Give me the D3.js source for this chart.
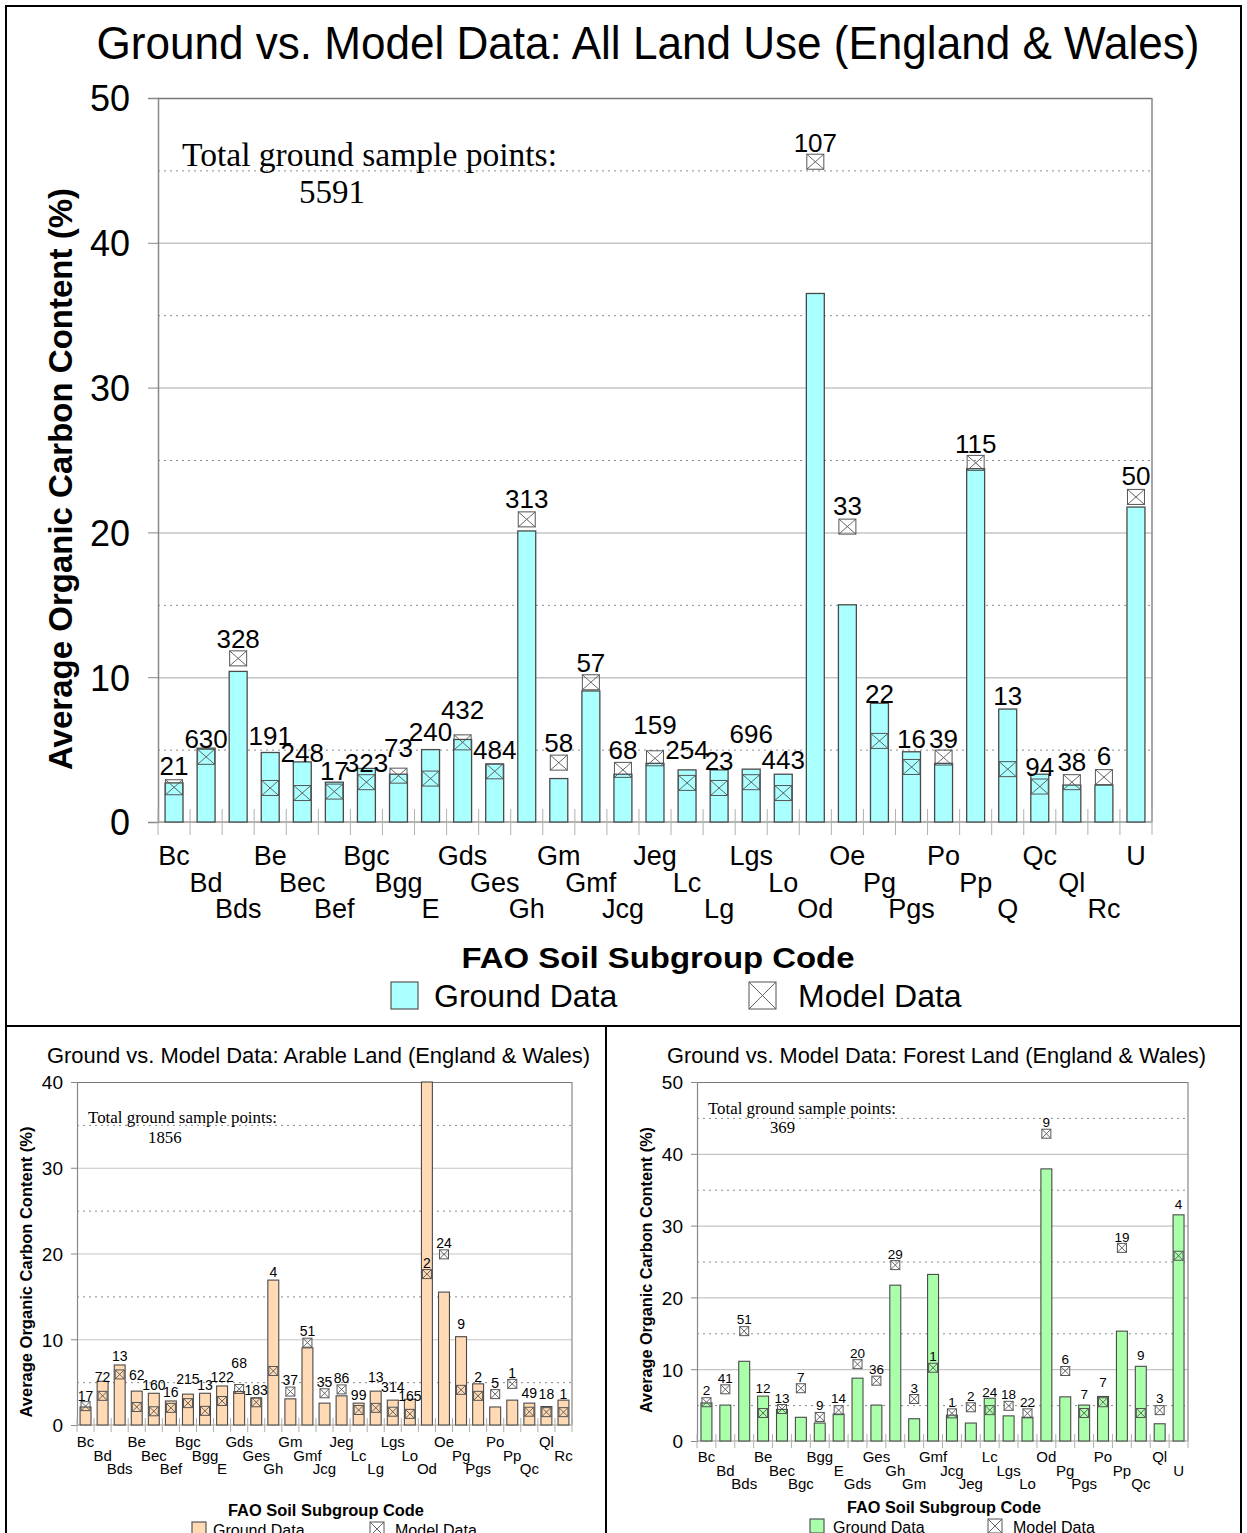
<!DOCTYPE html>
<html><head><meta charset="utf-8">
<script src="https://cdn.jsdelivr.net/npm/d3@7"></script>
<style>
body{margin:0;background:#fff}
svg{display:block}
text{font-family:"Liberation Sans",Arial,sans-serif;fill:#000}
</style>
</head><body>
<svg id="chart" width="1247" height="1533"></svg>
<script>
// ---------- DATA ----------
// All land use
const allCodes = ["Bc","Bd","Bds","Be","Bec","Bef","Bgc","Bgg","E","Gds","Ges","Gh","Gm","Gmf","Jcg","Jeg","Lc","Lg","Lgs","Lo","Od","Oe","Pg","Pgs","Po","Pp","Q","Qc","Ql","Rc","U"];
const allGround = [2.7,5.1,10.4,4.8,4.15,2.75,3.7,3.3,5.0,5.7,4.0,20.1,3.0,9.05,3.3,4.05,3.6,3.6,3.65,3.3,36.5,15.0,8.2,4.85,4.05,24.4,7.8,3.3,2.55,2.55,21.75];
const allModel  = [2.4,4.5,11.3,2.35,2.0,2.1,2.75,3.2,3.0,5.5,3.5,20.9,4.1,9.65,3.6,4.4,2.7,2.35,2.75,2.0,45.6,20.4,5.6,3.8,4.45,24.8,3.65,2.45,2.75,3.1,22.45];
const allCounts = [21,630,328,191,248,17,323,73,240,432,484,313,58,57,68,159,254,23,696,443,107,33,22,16,39,115,13,94,38,6,50];
const allCountLabelAt = [3.25,5.1,12.0,5.3,4.15,2.9,3.45,4.5,5.6,7.1,4.35,21.7,4.85,10.35,4.35,6.1,4.35,3.6,5.45,3.65,46.3,21.2,8.2,5.1,5.1,25.5,8.1,3.2,3.5,3.95,23.3];
const allTotal = 5591;
const allYTicks = [0,10,20,30,40,50];

// Arable land
const arableCodes = ["Bc","Bd","Bds","Be","Bec","Bef","Bgc","Bgg","E","Gds","Ges","Gh","Gm","Gmf","Jcg","Jeg","Lc","Lg","Lgs","Lo","Od","Oe","Pg","Pgs","Po","Pp","Qc","Ql","Rc"];
const arableGround = [2.1,5.1,7.0,3.95,3.7,2.8,3.6,3.7,4.55,3.9,3.15,16.9,3.05,9.0,2.55,3.4,2.55,3.95,2.9,3.0,40,15.5,10.3,4.8,2.1,2.9,2.55,2.15,2.9];
const arableModel  = [2.2,3.4,5.9,2.1,1.6,2.0,2.55,1.65,2.8,4.2,2.65,6.3,3.9,9.6,3.7,4.15,1.75,2.0,1.55,1.3,17.6,19.9,4.1,3.4,3.6,4.8,1.55,1.5,1.5];
const arableCounts = [17,72,13,62,160,16,215,13,122,68,183,4,37,51,35,86,99,13,314,165,2,24,9,2,5,1,49,18,1];
const arableCountLabelAt = [2.8,5.0,7.45,5.25,4.1,3.25,4.8,4.1,5.0,6.65,3.5,17.25,4.65,10.4,4.4,4.9,2.9,5.0,3.85,2.8,18.3,20.6,11.2,5.0,4.3,5.5,3.15,3.0,3.0];
const arableTotal = 1856;
const arableYTicks = [0,10,20,30,40];

// Forest land
const forestCodes = ["Bc","Bd","Bds","Be","Bec","Bgc","Bgg","E","Gds","Ges","Gh","Gm","Gmf","Jcg","Jeg","Lc","Lgs","Lo","Od","Pg","Pgs","Po","Pp","Qc","Ql","U"];
const forestGround = [5.3,5.0,11.1,6.25,4.4,3.3,2.5,3.75,8.75,5.0,21.7,3.1,23.2,3.6,2.5,5.95,3.5,3.3,37.9,6.15,5.0,6.2,15.3,10.4,2.4,31.5];
const forestModel  = [5.4,7.2,15.3,3.9,4.45,7.35,3.35,4.3,10.7,8.4,24.5,5.85,10.2,3.85,4.7,4.3,4.9,3.85,42.8,9.75,3.9,5.4,26.9,3.9,4.3,25.8];
const forestCounts = [2,41,51,12,13,7,9,14,20,36,29,3,1,1,2,24,18,22,9,6,7,7,19,9,3,4];
const forestCountLabelAt = [6.4,8.1,16.3,6.7,5.3,8.2,4.3,5.3,11.55,9.3,25.3,6.7,11.1,4.7,5.6,6.1,5.8,4.7,43.7,10.7,5.8,7.5,27.7,11.3,5.3,32.3];
const forestTotal = 369;
const forestYTicks = [0,10,20,30,40,50];

const titleAll = "Ground vs. Model Data: All Land Use (England & Wales)";
const titleArable = "Ground vs. Model Data: Arable Land (England & Wales)";
const titleForest = "Ground vs. Model Data: Forest Land (England & Wales)";
const yAxisTitle = "Average Organic Carbon Content (%)";
const xAxisTitle = "FAO Soil Subgroup Code";
const totalLabel = "Total ground sample points:";
const legendGround = "Ground Data";
const legendModel = "Model Data";

// ---------- DRAWING ----------
const svg = d3.select("#chart");

// frame
svg.append("rect").attr("x",6).attr("y",6).attr("width",1235).attr("height",1540)
  .attr("fill","none").attr("stroke","#000").attr("stroke-width",2);
svg.append("line").attr("x1",6).attr("x2",1241).attr("y1",1026).attr("y2",1026).attr("stroke","#000").attr("stroke-width",2);
svg.append("line").attr("x1",606).attr("x2",606).attr("y1",1026).attr("y2",1540).attr("stroke","#000").attr("stroke-width",2);

function modelMark(g, cx, cy, w, h) {
  g.append("rect").attr("x",cx-w/2).attr("y",cy-h/2).attr("width",w).attr("height",h)
    .attr("fill","none").attr("stroke","#555").attr("stroke-width",1);
  g.append("line").attr("x1",cx-w/2).attr("y1",cy-h/2).attr("x2",cx+w/2).attr("y2",cy+h/2).attr("stroke","#555").attr("stroke-width",0.9);
  g.append("line").attr("x1",cx+w/2).attr("y1",cy-h/2).attr("x2",cx-w/2).attr("y2",cy+h/2).attr("stroke","#555").attr("stroke-width",0.9);
}

function panel(c) {
  const g = svg.append("g");
  const x = d3.scaleBand().domain(c.codes).range([c.x0, c.x1]).paddingInner(c.pad).paddingOuter(c.pad/2);
  const y = d3.scaleLinear().domain([0, c.yMax]).range([c.y0, c.y1]);
  const W = c.x1 - c.x0;

  // minor dotted gridlines
  const minors = d3.range(5, c.yMax, 10);
  const gMin = g.append("g").attr("transform",`translate(${c.x0},0)`)
    .call(d3.axisLeft(y).tickValues(minors).tickSize(-W).tickFormat(""));
  gMin.select(".domain").remove();
  gMin.selectAll("line").attr("stroke","#8a8a8a").attr("stroke-width",1).attr("stroke-dasharray","2,4");

  // major gridlines
  const majors = c.yTicks.filter(v => v > 0);
  const gMaj = g.append("g").attr("transform",`translate(${c.x0},0)`)
    .call(d3.axisLeft(y).tickValues(majors).tickSize(-W).tickFormat(""));
  gMaj.select(".domain").remove();
  gMaj.selectAll("line").attr("stroke", d => d === c.yMax ? "#777" : "#c4c4c4").attr("stroke-width", c.gridW);

  // right border
  g.append("line").attr("x1",c.x1).attr("x2",c.x1).attr("y1",y(c.yMax)).attr("y2",c.y0)
    .attr("stroke","#888").attr("stroke-width",c.gridW);

  // y axis with labels
  const gy = g.append("g").attr("transform",`translate(${c.x0},0)`)
    .call(d3.axisLeft(y).tickValues(c.yTicks).tickSize(c.yTickLen).tickPadding(c.yTickPad));
  gy.select(".domain").attr("stroke","#888").attr("stroke-width",c.gridW);
  gy.selectAll("line").attr("stroke","#888");
  gy.selectAll("text").attr("font-size",c.yTickFont).attr("font-family","'Liberation Sans',Arial,sans-serif").attr("fill","#000").attr("dy","0.36em");

  // bottom axis line
  g.append("line").attr("x1",c.x0).attr("x2",c.x1).attr("y1",c.y0).attr("y2",c.y0).attr("stroke","#999").attr("stroke-width",c.gridW);

  // category boundary ticks
  const step = x.step();
  const bounds = c.codes.map(d => x(d) - step*c.pad/2).concat([c.x1]);
  g.selectAll(null).data(bounds).enter().append("line")
    .attr("x1", d => d).attr("x2", d => d)
    .attr("y1", c.y0 - c.xTickHalf).attr("y2", c.y0 + c.xTickHalf)
    .attr("stroke","#b0b0b0").attr("stroke-width",1);

  // x axis labels (staggered)
  const gx = g.append("g").call(d3.axisBottom(x).tickSize(0).tickPadding(0));
  gx.select(".domain").remove();
  gx.selectAll("text").attr("y",(d,i) => c.rows[i%3]).attr("dy",null)
    .attr("font-size",c.xTickFont).attr("font-family","'Liberation Sans',Arial,sans-serif").attr("fill","#000");

  // bars
  g.selectAll(null).data(c.codes).enter().append("rect")
    .attr("x", d => x(d)).attr("width", x.bandwidth())
    .attr("y", (d,i) => y(c.ground[i])).attr("height", (d,i) => c.y0 - y(c.ground[i]))
    .attr("fill", c.fill).attr("stroke","#4a4a4a").attr("stroke-width",c.barStroke);

  // model markers
  c.codes.forEach((d,i) => {
    modelMark(g, x(d) + x.bandwidth()/2, y(c.model[i]), c.boxW, c.boxH);
  });

  // count labels
  g.selectAll(null).data(c.codes).enter().append("text")
    .attr("x", d => x(d) + x.bandwidth()/2)
    .attr("y", (d,i) => y(c.labelAt[i]))
    .attr("text-anchor","middle").attr("font-size",c.countFont)
    .text((d,i) => c.counts[i]);

  // title
  g.append("text").attr("x",c.title.x).attr("y",c.title.y).attr("text-anchor","middle")
    .attr("font-size",c.title.size).attr("textLength",c.title.len).attr("lengthAdjust","spacingAndGlyphs")
    .text(c.title.text);

  // y axis title
  g.append("text").attr("transform",`translate(${c.yLab.x},${c.yLab.y}) rotate(-90)`)
    .attr("text-anchor","middle").attr("font-weight","bold").attr("font-size",c.yLab.size)
    .attr("textLength",c.yLab.len).attr("lengthAdjust","spacingAndGlyphs")
    .text(yAxisTitle);

  // x axis title
  g.append("text").attr("x",c.xLab.x).attr("y",c.xLab.y).attr("text-anchor","middle")
    .attr("font-weight","bold").attr("font-size",c.xLab.size)
    .attr("textLength",c.xLab.len).attr("lengthAdjust","spacingAndGlyphs")
    .text(xAxisTitle);

  // totals
  g.append("text").attr("x",c.tot.x).attr("y",c.tot.y).attr("font-size",c.tot.size)
    .attr("textLength",c.tot.len).attr("lengthAdjust","spacingAndGlyphs")
    .style("font-family","'Liberation Serif','Times New Roman',serif").text(totalLabel);
  g.append("text").attr("x",c.tot.nx).attr("y",c.tot.ny).attr("font-size",c.tot.size)
    .style("font-family","'Liberation Serif','Times New Roman',serif").text(c.total);

  // legend
  const L = c.leg;
  g.append("rect").attr("x",L.gx).attr("y",L.y).attr("width",L.s).attr("height",L.s)
    .attr("fill",c.fill).attr("stroke","#555").attr("stroke-width",1.2);
  g.append("text").attr("x",L.gtx).attr("y",L.ty).attr("font-size",L.size).text(legendGround);
  modelMark(g, L.mx + L.s/2, L.y + L.s/2, L.s, L.s);
  g.append("text").attr("x",L.mtx).attr("y",L.ty).attr("font-size",L.size).text(legendModel);
}

panel({
  codes: allCodes, ground: allGround, model: allModel, counts: allCounts, labelAt: allCountLabelAt,
  total: allTotal, yTicks: allYTicks, yMax: 50,
  x0: 158, x1: 1152, y0: 822, y1: 98, pad: 0.44, fill: "#aaffff",
  gridW: 1.5, barStroke: 1.3, boxW: 17, boxH: 15, countFont: 26,
  yTickLen: 10, yTickPad: 18, yTickFont: 36,
  xTickHalf: 13, xTickFont: 27, rows: [865, 892, 918],
  title: {x: 648, y: 59, size: 46, len: 1103, text: titleAll},
  yLab: {x: 72, y: 479, size: 33, len: 582},
  xLab: {x: 658, y: 968, size: 29, len: 393},
  tot: {x: 182, y: 166, nx: 299, ny: 203, size: 33, len: 375},
  leg: {gx: 391, y: 982, s: 27, gtx: 434, mx: 749, mtx: 798, ty: 1007, size: 32}
});

panel({
  codes: arableCodes, ground: arableGround, model: arableModel, counts: arableCounts, labelAt: arableCountLabelAt,
  total: arableTotal, yTicks: arableYTicks, yMax: 40,
  x0: 77, x1: 572, y0: 1425, y1: 1082, pad: 0.36, fill: "#ffdab4",
  gridW: 1.2, barStroke: 1.1, boxW: 9, boxH: 9, countFont: 14,
  yTickLen: 6, yTickPad: 8, yTickFont: 19,
  xTickHalf: 7, xTickFont: 15, rows: [1447, 1461, 1474],
  title: {x: 318.5, y: 1063, size: 22, len: 543, text: titleArable},
  yLab: {x: 32, y: 1272, size: 16.5, len: 291},
  xLab: {x: 326, y: 1516, size: 16, len: 196},
  tot: {x: 88, y: 1123, nx: 148, ny: 1143, size: 16.8, len: 189},
  leg: {gx: 192, y: 1522, s: 14, gtx: 213, mx: 370, mtx: 395, ty: 1536, size: 16}
});

panel({
  codes: forestCodes, ground: forestGround, model: forestModel, counts: forestCounts, labelAt: forestCountLabelAt,
  total: forestTotal, yTicks: forestYTicks, yMax: 50,
  x0: 697, x1: 1188, y0: 1441, y1: 1082, pad: 0.42, fill: "#aaffaa",
  gridW: 1.2, barStroke: 1.1, boxW: 9, boxH: 9, countFont: 13.5,
  yTickLen: 6, yTickPad: 8, yTickFont: 19,
  xTickHalf: 7, xTickFont: 15, rows: [1462, 1476, 1489],
  title: {x: 936.5, y: 1063, size: 22, len: 539, text: titleForest},
  yLab: {x: 652, y: 1270, size: 16.2, len: 286},
  xLab: {x: 944, y: 1513, size: 16, len: 194},
  tot: {x: 708, y: 1114, nx: 770, ny: 1133, size: 16.7, len: 188},
  leg: {gx: 810, y: 1519, s: 14, gtx: 833, mx: 988, mtx: 1013, ty: 1533, size: 16}
});
</script>
</body></html>
